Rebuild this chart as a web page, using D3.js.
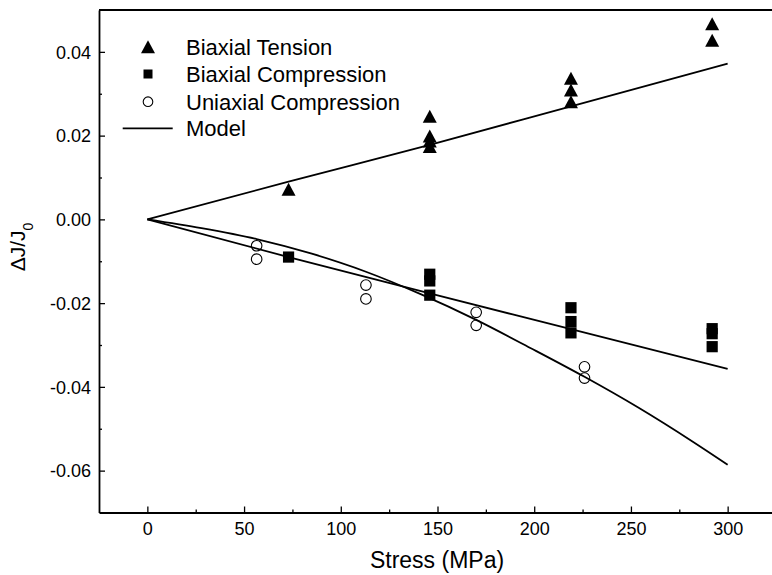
<!DOCTYPE html>
<html>
<head>
<meta charset="utf-8">
<script src="https://cdn.jsdelivr.net/npm/d3@7"></script>
<style>
  html, body { margin: 0; padding: 0; background: #fff; }
  svg { display: block; font-family: "Liberation Sans", Arial, sans-serif; }
</style>
</head>
<body>
<svg id="chart" width="772" height="575"></svg>
<script>
// ---------- data ----------
const tensionX = [73, 146, 146, 146, 146, 219, 219, 219, 292, 292];
const tensionY = [0.0072, 0.0246, 0.0199, 0.0187, 0.0174, 0.0337, 0.0309, 0.0281, 0.0467, 0.0428];

const biaxCompX = [73, 146, 146, 146, 219, 219, 219, 292, 292, 292];
const biaxCompY = [-0.0090, -0.0131, -0.0147, -0.0181, -0.0211, -0.0244, -0.0271, -0.0261, -0.0273, -0.0304];

const uniCompX = [56.5, 56.5, 113, 113, 170, 170, 226, 226];
const uniCompY = [-0.0063, -0.0095, -0.0157, -0.0190, -0.0222, -0.0253, -0.0352, -0.0379];

const modelTensionX = [0, 73, 146, 219, 300];
const modelTensionY = [0, 0.0090, 0.0178, 0.0270, 0.0372];

const modelBiaxX = [0, 73, 146, 219, 300];
const modelBiaxY = [0, -0.0090, -0.0177, -0.0262, -0.0357];

const modelUniX = [0, 28, 56.5, 85, 113, 141, 170, 198, 226, 254, 282, 300];
const modelUniY = [0, -0.0021, -0.0047, -0.0082, -0.0125, -0.0178, -0.0240, -0.0307, -0.0376, -0.0450, -0.0531, -0.0586];

const xMajorTicks = [0, 50, 100, 150, 200, 250, 300];
const xTickLabels = ["0", "50", "100", "150", "200", "250", "300"];
const xMinorTicks = [25, 75, 125, 175, 225, 275];

const yMajorTicks = [-0.06, -0.04, -0.02, 0.00, 0.02, 0.04];
const yTickLabels = ["-0.06", "-0.04", "-0.02", "0.00", "0.02", "0.04"];
const yMinorTicks = [-0.05, -0.03, -0.01, 0.01, 0.03];

const legendLabels = ["Biaxial Tension", "Biaxial Compression", "Uniaxial Compression", "Model"];

// ---------- layout ----------
const svg = d3.select("#chart");
const x = d3.scaleLinear().domain([-25, 325]).range([99, 776]);
const y = d3.scaleLinear().domain([-0.07, 0.05]).range([512.5, 10]);

const frameW = 1.8;

// frame: top and right lines
svg.append("line").attr("x1", x.range()[0]).attr("x2", x.range()[1])
  .attr("y1", y.range()[1]).attr("y2", y.range()[1])
  .attr("stroke", "#000").attr("stroke-width", frameW);
svg.append("line").attr("x1", x.range()[1]).attr("x2", x.range()[1])
  .attr("y1", y.range()[1]).attr("y2", y.range()[0])
  .attr("stroke", "#000").attr("stroke-width", frameW);

// x axis
const gx = svg.append("g").attr("transform", `translate(0,${y.range()[0]})`)
  .call(d3.axisBottom(x).tickValues(xMajorTicks).tickSize(-6).tickSizeOuter(0)
    .tickPadding(9.7).tickFormat((d, i) => xTickLabels[i]));
svg.append("g").attr("transform", `translate(0,${y.range()[0]})`)
  .call(d3.axisBottom(x).tickValues(xMinorTicks).tickSize(-3).tickSizeOuter(0).tickFormat(""))
  .call(g => g.select(".domain").remove());

// y axis
const gy = svg.append("g").attr("transform", `translate(${x.range()[0]},0)`)
  .call(d3.axisLeft(y).tickValues(yMajorTicks).tickSize(-6).tickSizeOuter(0)
    .tickPadding(8).tickFormat((d, i) => yTickLabels[i]));
svg.append("g").attr("transform", `translate(${x.range()[0]},0)`)
  .call(d3.axisLeft(y).tickValues(yMinorTicks).tickSize(-3).tickSizeOuter(0).tickFormat(""))
  .call(g => g.select(".domain").remove());

svg.selectAll(".domain").attr("stroke", "#000").attr("stroke-width", frameW);
svg.selectAll(".tick line").attr("stroke", "#000").attr("stroke-width", 1.3);
svg.selectAll(".tick text").attr("fill", "#000").style("font-size", "18px")
  .style("font-family", "'Liberation Sans', Arial, sans-serif");
gy.selectAll(".tick text").attr("dy", "0.34em");

// axis titles
svg.append("text").attr("x", 437).attr("y", 568).attr("text-anchor", "middle")
  .style("font-size", "23px").attr("fill", "#000").text("Stress (MPa)");

const yt = svg.append("text").attr("transform", "translate(25,247) rotate(-90)")
  .attr("text-anchor", "middle").style("font-size", "21px").attr("fill", "#000");
yt.append("tspan").text("\u0394J/J");
yt.append("tspan").attr("baseline-shift", "sub").style("font-size", "14px").text("0");

// ---------- model lines ----------
const line = d3.line().x(d => x(d[0])).y(d => y(d[1])).curve(d3.curveMonotoneX);
function drawModel(xs, ys) {
  svg.append("path").datum(xs.map((v, i) => [v, ys[i]]))
    .attr("d", line).attr("fill", "none").attr("stroke", "#000")
    .attr("stroke-width", 1.8).attr("stroke-linejoin", "round");
}
drawModel(modelTensionX, modelTensionY);
drawModel(modelBiaxX, modelBiaxY);
drawModel(modelUniX, modelUniY);

// ---------- markers ----------
const triPath = "M0,-6.5L7,6.5L-7,6.5Z";
function triangles(xs, ys) {
  svg.append("g").selectAll("path").data(xs.map((v, i) => [v, ys[i]])).join("path")
    .attr("d", triPath).attr("transform", d => `translate(${x(d[0])},${y(d[1])})`)
    .attr("fill", "#000");
}
function squares(xs, ys) {
  svg.append("g").selectAll("rect").data(xs.map((v, i) => [v, ys[i]])).join("rect")
    .attr("x", d => x(d[0]) - 5.6).attr("y", d => y(d[1]) - 5.6)
    .attr("width", 11.2).attr("height", 11.2).attr("fill", "#000");
}
function circles(xs, ys) {
  svg.append("g").selectAll("circle").data(xs.map((v, i) => [v, ys[i]])).join("circle")
    .attr("cx", d => x(d[0])).attr("cy", d => y(d[1])).attr("r", 5.3)
    .attr("fill", "none").attr("stroke", "#000").attr("stroke-width", 1.1);
}
squares(biaxCompX, biaxCompY);
circles(uniCompX, uniCompY);
triangles(tensionX, tensionY);

// ---------- legend ----------
const legX = 148, legTextX = 186;
const legY = [46.7, 74, 101.7, 128.3];
svg.append("path").attr("d", triPath).attr("transform", `translate(${legX},${legY[0]})`).attr("fill", "#000");
svg.append("rect").attr("x", legX - 4.5).attr("y", legY[1] - 4.5).attr("width", 9).attr("height", 9).attr("fill", "#000");
svg.append("circle").attr("cx", legX).attr("cy", legY[2]).attr("r", 4.8)
  .attr("fill", "none").attr("stroke", "#000").attr("stroke-width", 1.1);
svg.append("line").attr("x1", 122.7).attr("x2", 172.7).attr("y1", legY[3]).attr("y2", legY[3])
  .attr("stroke", "#000").attr("stroke-width", 1.8);
svg.append("g").selectAll("text").data(legendLabels).join("text")
  .attr("x", legTextX).attr("y", (d, i) => legY[i] + 7.9)
  .style("font-size", "22px").attr("fill", "#000").text(d => d);
</script>
</body>
</html>
